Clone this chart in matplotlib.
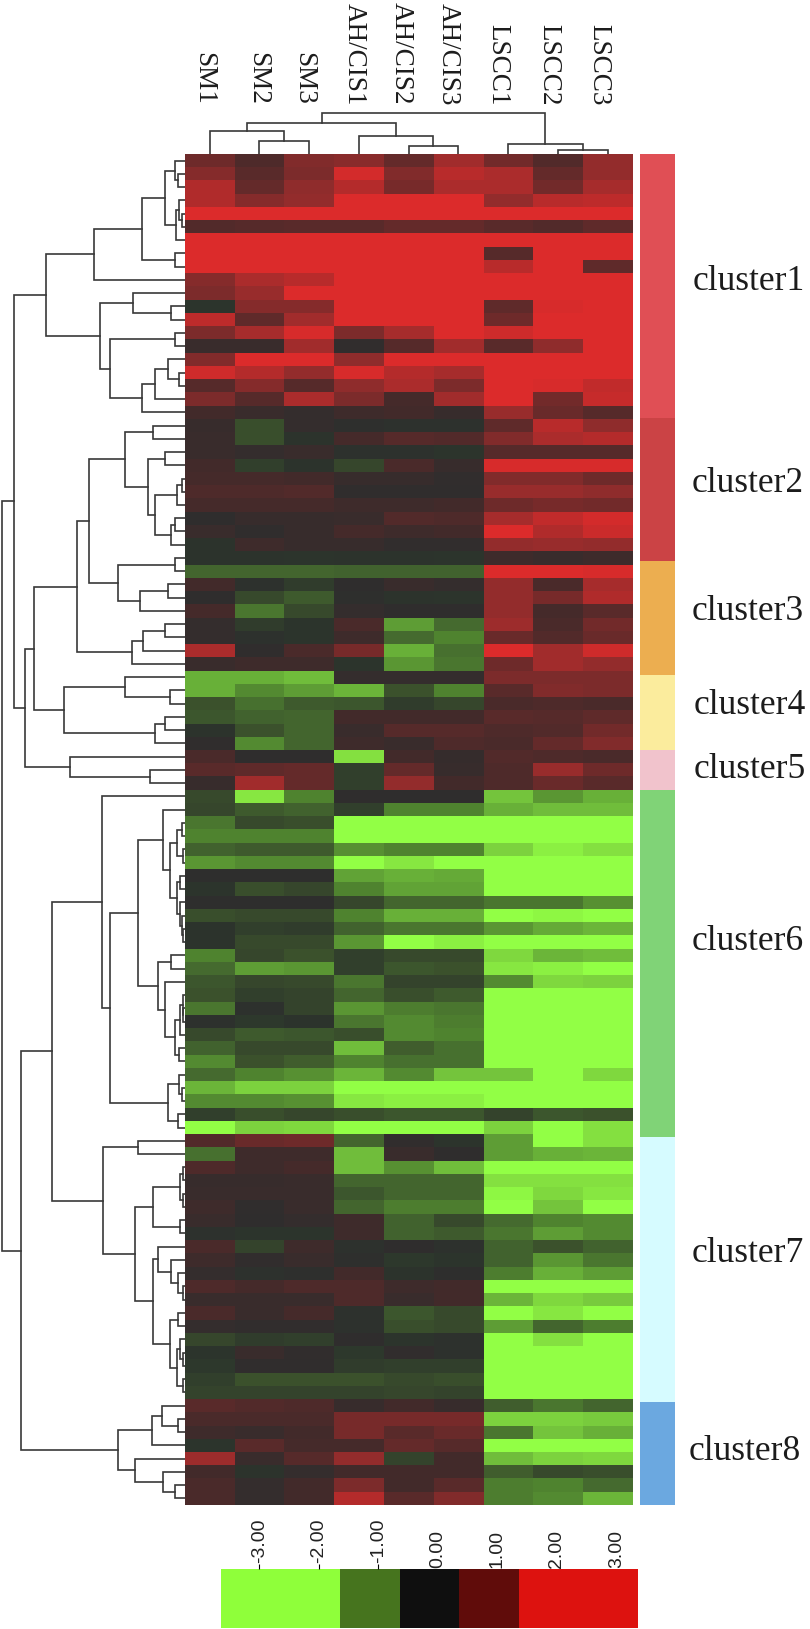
#!/usr/bin/env python3
import matplotlib
matplotlib.use("Agg")
import matplotlib.pyplot as plt
import numpy as np
from matplotlib.colors import LinearSegmentedColormap, ListedColormap, BoundaryNorm
from matplotlib.transforms import ScaledTranslation

W, H = 810, 1629

samples = ["SM1", "SM2", "SM3", "AH/CIS1", "AH/CIS2", "AH/CIS3", "LSCC1", "LSCC2", "LSCC3"]

# columns follow samples
cluster1 = [
	[0.8, 0.45, 1.0, 1.1, 0.7, 1.35, 0.85, 0.5, 1.2],
	[1.05, 0.6, 0.95, 1.9, 1.0, 1.6, 1.45, 0.7, 1.2],
	[1.5, 0.7, 1.15, 1.55, 0.9, 1.45, 1.45, 0.85, 1.4],
	[1.5, 1.05, 1.2, 2, 2, 2, 1.2, 1.6, 1.65],
	[2, 2, 2, 2, 2, 2, 2, 2, 2],
	[0.5, 0.55, 0.6, 0.6, 0.7, 0.7, 0.6, 0.5, 0.65],
	[2, 2, 2, 2, 2, 2, 2, 2, 2],
	[2, 2, 2, 2, 2, 2, 0.55, 2, 2],
	[2, 2, 2, 2, 2, 2, 1.6, 2, 0.65],
	[1.05, 1.45, 1.6, 2, 2, 2, 2, 2, 2],
	[0.95, 1.25, 2, 2, 2, 2, 2, 2, 2],
	[-0.2, 1.05, 1.05, 2, 2, 2, 0.65, 1.95, 2],
	[1.65, 0.65, 1.35, 2, 2, 2, 0.8, 2, 2],
	[0.95, 1.4, 1.95, 0.95, 1.4, 2, 1.85, 2, 2],
	[0.2, 0.2, 1.35, 0.05, 0.55, 1.35, 0.6, 1.15, 2],
	[1.0, 2, 2, 1.15, 2, 2, 2, 2, 2],
	[1.85, 1.55, 1.2, 1.95, 1.55, 1.4, 2, 2, 2],
	[0.55, 1.05, 0.55, 1.15, 1.45, 0.95, 2, 1.95, 1.7],
	[0.95, 0.55, 1.45, 0.95, 0.35, 1.35, 2, 0.85, 1.75],
	[0.3, 0.2, 0.1, 0.25, 0.3, 0.15, 1.25, 0.75, 0.55],
]
cluster2 = [
	[0.15, -0.55, 0.1, -0.05, -0.1, -0.1, 0.65, 1.6, 1.15],
	[0.2, -0.55, -0.15, 0.35, 0.55, 0.5, 1.0, 1.45, 1.55],
	[0.2, 0.1, 0.2, -0.1, -0.1, -0.2, 0.55, 0.55, 0.55],
	[0.3, -0.35, -0.15, -0.45, 0.4, 0.15, 1.95, 1.95, 1.95],
	[0.35, 0.35, 0.3, 0.15, 0.15, 0.05, 1.0, 1.0, 0.8],
	[0.45, 0.45, 0.5, 0.03, 0.03, 0.03, 1.25, 1.25, 1.15],
	[0.35, 0.35, 0.35, 0.25, 0.25, 0.3, 0.8, 0.9, 0.85],
	[0, 0.15, 0.15, 0.2, 0.5, 0.45, 1.4, 1.7, 1.9],
	[0.2, 0.02, 0.15, 0.35, 0.25, 0.3, 2, 1.5, 1.8],
	[-0.15, 0.25, 0.15, 0.15, 0.05, 0.05, 1.2, 1.25, 1.2],
	[-0.15, -0.15, -0.2, -0.15, -0.15, -0.2, 0.25, 0.2, 0.25],
]
cluster3 = [
	[-0.85, -0.85, -0.85, -0.8, -0.8, -0.8, 2, 2, 1.95],
	[0.3, -0.1, -0.3, 0, 0.2, 0.1, 1.2, 0.4, 1.4],
	[0, -0.5, -0.7, -0.05, -0.15, -0.2, 1.2, 0.9, 1.5],
	[0.35, -1.0, -0.5, 0.1, 0, 0, 1.2, 0.35, 0.6],
	[0.1, -0.3, -0.2, 0.4, -1.3, -0.9, 1.3, 0.4, 0.85],
	[0.1, -0.1, -0.2, 0.25, -0.9, -1.1, 0.75, 0.5, 0.75],
	[1.45, 0.02, 0.4, 0.9, -1.45, -0.95, 2, 1.35, 1.85],
	[0.2, 0.25, 0.25, -0.2, -1.25, -1.0, 0.8, 1.35, 1.2],
]
cluster4 = [
	[-1.45, -1.45, -1.55, 0.1, 0.1, 0.1, 0.95, 0.95, 0.95],
	[-1.45, -1.15, -1.3, -1.5, -0.6, -1.1, 0.6, 1.0, 0.95],
	[-0.6, -0.95, -0.7, -0.65, -0.3, -0.45, 0.4, 0.45, 0.4],
	[-0.65, -0.8, -0.85, 0.3, 0.3, 0.3, 0.6, 0.55, 0.65],
	[-0.15, -0.6, -0.85, 0.2, 0.55, 0.55, 0.45, 0.5, 0.85],
	[0.02, -1.15, -0.85, 0.25, 0.2, 0.45, 0.4, 0.7, 1.0],
]
cluster5 = [
	[0.4, 0, 0, -1.8, 0.3, 0.12, 0.5, 0.45, 0.4],
	[0.6, 0.65, 0.7, -0.35, 0.7, 0.15, 0.45, 1.25, 0.8],
	[0.15, 1.35, 0.7, -0.35, 1.2, 0.3, 0.45, 0.75, 0.6],
]
cluster6 = [
	[-0.5, -1.85, -1.1, 0, 0, 0, -1.6, -1.25, -1.45],
	[-0.45, -0.7, -0.8, -0.35, -1.1, -1.1, -1.45, -1.55, -1.55],
	[-1.0, -0.5, -0.55, -2, -2, -2, -2, -2, -2],
	[-1.1, -1.1, -1.1, -2, -2, -2, -2, -2, -2],
	[-0.8, -0.7, -0.7, -1.2, -1.1, -1.1, -1.7, -1.9, -1.8],
	[-1.25, -1.15, -1.15, -2, -1.85, -2, -2, -2, -2],
	[-0.03, -0.03, -0.03, -1.35, -1.45, -1.4, -2, -2, -2],
	[-0.2, -0.55, -0.45, -1.1, -1.35, -1.35, -2, -2, -2],
	[-0.03, -0.03, -0.03, -0.45, -0.85, -0.85, -1.0, -1.0, -1.2],
	[-0.55, -0.5, -0.5, -1.1, -1.45, -1.45, -2, -1.95, -2],
	[-0.15, -0.35, -0.3, -0.8, -1.0, -1.0, -1.25, -1.4, -1.5],
	[-0.15, -0.5, -0.5, -1.25, -2, -1.9, -2, -2, -2],
	[-1.1, -0.45, -0.6, -0.35, -0.5, -0.5, -1.75, -1.5, -1.55],
	[-0.9, -1.3, -1.25, -0.35, -0.65, -0.6, -1.85, -1.9, -2],
	[-0.65, -0.45, -0.5, -1.0, -0.4, -0.4, -1.15, -1.75, -1.7],
	[-0.6, -0.35, -0.4, -0.85, -0.55, -0.7, -2, -2, -2],
	[-1.0, -0.1, -0.4, -1.25, -1.05, -1.0, -2, -2, -2],
	[-0.1, -0.25, -0.15, -1.0, -1.15, -1.05, -2, -2, -2],
	[-0.5, -0.7, -0.65, -0.55, -1.15, -1.1, -2, -2, -2],
	[-0.8, -0.5, -0.5, -1.55, -0.75, -0.95, -2, -2, -2],
	[-1.15, -0.6, -0.75, -1.1, -0.95, -0.95, -2, -2, -2],
	[-0.9, -1.1, -1.2, -1.5, -1.15, -1.6, -1.6, -2, -1.75],
	[-1.5, -1.7, -1.7, -2, -2, -2, -2, -2, -2],
	[-1.15, -1.15, -1.2, -1.85, -1.9, -1.9, -2, -2, -2],
	[-0.35, -0.55, -0.45, -0.55, -0.65, -0.65, -0.4, -0.65, -0.6],
	[-2, -1.7, -1.75, -2, -2, -2, -1.7, -2, -1.8],
]
cluster7 = [
	[0.5, 0.75, 0.8, -0.85, 0.05, -0.2, -1.3, -2, -1.8],
	[-0.95, 0.25, 0.25, -1.55, 0.2, 0, -1.3, -1.45, -1.5],
	[0.45, 0.25, 0.35, -1.55, -1.2, -1.55, -2, -2, -2],
	[0.15, 0.15, 0.2, -0.85, -0.85, -0.85, -1.8, -1.8, -1.8],
	[0.2, 0.2, 0.2, -0.65, -0.85, -0.85, -1.95, -1.75, -1.85],
	[0.25, 0.02, 0.2, -0.85, -1.05, -1.05, -2, -1.6, -2],
	[0.2, 0, 0.1, 0.25, -0.8, -0.5, -0.9, -1.1, -1.15],
	[-0.1, -0.2, -0.2, 0.25, -0.8, -0.7, -1.0, -1.3, -1.15],
	[0.4, -0.4, 0.25, -0.1, 0, -0.1, -0.8, -0.6, -0.8],
	[0.25, 0.05, 0.2, -0.05, -0.25, -0.2, -0.8, -1.25, -1.0],
	[0.1, -0.1, -0.05, 0.3, -0.15, -0.03, -1.05, -1.45, -1.3],
	[0.45, 0.35, 0.45, 0.45, 0.25, 0.3, -2, -2, -2],
	[0.2, 0.2, 0.2, 0.45, 0.2, 0.3, -1.5, -1.75, -1.65],
	[0.4, 0.2, 0.35, -0.1, -0.65, -0.5, -2, -1.85, -2],
	[0.1, 0.05, 0.05, -0.1, -0.55, -0.5, -1.3, -0.85, -1.05],
	[-0.45, -0.3, -0.35, 0, -0.2, -0.1, -2, -1.8, -2],
	[-0.2, 0.2, 0.05, -0.25, 0.05, -0.1, -2, -2, -2],
	[-0.25, 0.03, 0.03, -0.3, -0.35, -0.35, -2, -2, -2],
	[-0.35, -0.6, -0.6, -0.6, -0.5, -0.55, -2, -2, -2],
	[-0.4, -0.4, -0.4, -0.4, -0.45, -0.4, -2, -2, -2],
]
cluster8 = [
	[0.6, 0.5, 0.45, 0.15, 0.3, 0.15, -0.75, -1.0, -0.85],
	[0.4, 0.4, 0.4, 0.9, 0.9, 0.9, -1.7, -1.7, -1.65],
	[0.25, 0.2, 0.3, 0.9, 0.6, 0.75, -1.0, -1.6, -1.45],
	[-0.2, 0.6, 0.35, 0.35, 0.7, 0.55, -2, -2, -2],
	[1.3, 0.2, 0.55, 1.2, -0.4, 0.3, -1.55, -1.7, -1.75],
	[0.3, -0.15, 0.1, 0.3, 0.3, 0.3, -0.75, -0.5, -0.55],
	[0.4, 0.1, 0.3, 0.95, 0.3, 0.6, -1.05, -1.1, -0.9],
	[0.4, 0.1, 0.3, 1.55, 0.6, 1.0, -1.05, -1.15, -1.5],
]
clusters = [cluster1, cluster2, cluster3, cluster4, cluster5, cluster6, cluster7, cluster8]
cluster_names = ["cluster%d" % (i + 1) for i in range(8)]
cluster_colors = ["#e04f55", "#cb4345", "#ecae50", "#fbec9d", "#f1c3cc", "#80d377", "#d6fbff", "#6ba8e0"]
# strip blocks do not sit exactly on row edges in the picture
strip_spans = [19.9, 10.8, 8.6, 5.7, 3.0, 26.2, 20.0, 7.8]

# dendrograms: [height, child, child], a plain int is a leaf
col_tree = [40.7, [31.3, [23, 0, [13, 1, 2]], [18, 3, [8, 4, 5]]], [9.7, 6, [4.3, 7, 8]]]

branch_a = [139, [91, [43, [20, [10, 0, [6.7, 1, 2]], [8.7, [5.3, 3, [3, 4, 5]], 6]], [10, 7, 8]], 9],
	[84.7, [51.3, 10, [13.3, 11, 12]],
		[74.7, [10, 13, 14], [43, [29.7, [16.7, 15, [5.3, 16, 17]], 18], 19]]]]
branch_b = [107.7, [96,
		[59.7, [31.3, 20, 21], [36.3, [20, 22, 23], [29.7, [8, [3, 24, 25], 26], [13.3, [10, 27, 28], 29]]]],
		[66.3, [10, 30, 31], [44.7, [16.7, 32, 33], 34]]],
	[53, [41.3, [20, 35, 36], 37], 38]]
branch_c = [121, [59.7, 39, [14.7, 40, 41]], [29.7, [20, 42, 43], 44]]
branch_d = [114.3, 45, [34.7, 46, 47]]
branch_e = [46.3,
	[21.3, 49, [14.7, [8, [3, 50, 51], [2, 52, 53]], [8, [5, 54, 55], [5, 56, [3, 57, [2, 58, 59]]]]]],
	[26.3, [13.3, 60, 61], [19.7, 62, [9.7, [5, [2, 63, [1.3, 64, 65]], 66], [5.3, 67, 68]]]]]
branch_f = [16.3, [5.3, 69, [3, 70, 71]], [6.3, 72, 73]]
branch_g = [81.3, [46.3, 74, 75], [49.7,
	[31.3, [4.7, [2, 76, 77], [2, 78, 79]], [4.7, 80, 81]],
	[31.3, [26.3, 82, [13.3, 83, [6.3, 84, [2, 85, 86]]]],
		[14.7, [6.3, 87, 88], [8, [4.7, 89, [2, 90, 91]], [2, 92, 93]]]]]]
branch_h = [66.3, [33, [23, 94, [6.3, 95, 96]], 97], [49.7, 98, [22, 99, [9.7, 100, 101]]]]
row_tree = [182.3,
	[170.7, branch_a, [159.3, [150.7, branch_b, branch_c], branch_d]],
	[164, [132.7, [83, 48, [74.7, branch_e, branch_f]], branch_g], branch_h]]

bar_ticks = [-3, -2, -1, 0, 1, 2, 3]
bar_labels = ["-3.00", "-2.00", "-1.00", "0.00", "1.00", "2.00", "3.00"]
bar_edges = [-3.64, -1.64, -0.64, 0.36, 1.36, 3.36]
bar_colors = ["#8fff3a", "#46741e", "#0f0f0f", "#600c0a", "#dd120f"]

heat_nodes = [(-2, "#92ff45"), (-1.8, "#84e040"), (-1.5, "#6cb63a"), (-1.1, "#508430"), (-0.9, "#456a2f"),
	(-0.5, "#384a2c"), (-0.2, "#2c352c"), (0, "#2f2e2e"), (0.2, "#3a2c2c"), (0.4, "#4a2a2a"),
	(0.6, "#5a2a2a"), (0.8, "#6e2a2a"), (1.1, "#8a2c2c"), (1.5, "#b02c2c"), (2, "#dc2b2b")]

LEFT, RIGHT, TOP, BOTTOM = 184.7, 632.5, 154, 1505

def pixel_axes(fig, x0, y0, x1, y1):
	return fig.add_axes([x0 / W, 1 - y1 / H, (x1 - x0) / W, (y1 - y0) / H])

def draw_tree(ax, node, vertical):
	"""Walks the tree and returns (leaf position, height) of the node."""
	if isinstance(node, int):
		return node + 0.5, 0
	h, a, b = node
	pa, ha = draw_tree(ax, a, vertical)
	pb, hb = draw_tree(ax, b, vertical)
	ps = [pa, pa, pb, pb]
	hs = [ha, h, h, hb]
	if vertical:
		ax.plot(ps, hs, color="#383838", lw=1.2, solid_joinstyle="miter")
	else:
		ax.plot(hs, ps, color="#383838", lw=1.2, solid_joinstyle="miter")
	return (pa + pb) / 2, h

fig = plt.figure(figsize=(W / 100, H / 100), dpi=100, facecolor="white")

# heatmap
values = np.array([row for c in clusters for row in c], dtype=float)
n_rows, n_cols = values.shape
vmin, vmax = heat_nodes[0][0], heat_nodes[-1][0]
cmap = LinearSegmentedColormap.from_list("heat", [((v - vmin) / (vmax - vmin), c) for v, c in heat_nodes], N=512)
ax = pixel_axes(fig, LEFT, TOP, RIGHT, BOTTOM)
ax.imshow(values, cmap=cmap, vmin=vmin, vmax=vmax, aspect="auto", interpolation="nearest",
	extent=(0, n_cols, n_rows, 0))
ax.axis("off")

# row dendrogram
ax = pixel_axes(fig, 0, TOP, LEFT, BOTTOM)
draw_tree(ax, row_tree, False)
ax.set_xlim(LEFT, 0)
ax.set_ylim(n_rows, 0)
ax.axis("off")

# column dendrogram
ax = pixel_axes(fig, LEFT, 105, RIGHT, TOP)
draw_tree(ax, col_tree, True)
ax.set_xlim(0, n_cols)
ax.set_ylim(0, TOP - 105)
ax.axis("off")

# cluster strip
ax = pixel_axes(fig, 640, TOP, 675, BOTTOM)
start = 0
for span, color in zip(strip_spans, cluster_colors):
	ax.barh(start, 1, height=span, left=0, align="edge", color=color, linewidth=0)
	start += span
ax.set_xlim(0, 1)
ax.set_ylim(n_rows, 0)
ax.axis("off")

# labels
serif = "Liberation Serif"
label_x = [204, 258, 304, 354, 401, 448, 498, 549, 599]
for x, name in zip(label_x, samples):
	fig.text(x / W, 1 - 105 / H, name, rotation=270, ha="center", va="bottom", fontsize=19.5,
		family=serif, color="#1c1c1c")

cluster_y = [282, 484, 612, 706, 769, 942, 1253, 1452]
cluster_left = [693, 692, 692, 694, 694, 692, 692, 689]
for x, y, name in zip(cluster_left, cluster_y, cluster_names):
	fig.text(x / W, 1 - y / H, name, ha="left", va="center", fontsize=25.5, family=serif, color="#1c1c1c")

# colour key
ax = pixel_axes(fig, 221, 1569, 638, 1628)
key_cmap = ListedColormap(bar_colors)
key_norm = BoundaryNorm(bar_edges, key_cmap.N)
ax.pcolormesh(bar_edges, [0, 1], [[-2.5, -1, 0, 1, 2.5]], cmap=key_cmap, norm=key_norm)
ax.set_yticks([])
ax.xaxis.tick_top()
ax.set_xticks(bar_ticks)
ax.set_xticklabels(bar_labels, rotation=90, fontsize=14, family="Liberation Sans", color="#222222")
ax.tick_params(axis="x", length=3.5, width=0.8, pad=0.5)
# from 0.00 on the labels sit right on the bar, with no tick showing
for t, v in zip(ax.xaxis.get_major_ticks(), bar_ticks):
	if v >= 0:
		t.tick2line.set_visible(False)
		t.label2.set_transform(t.label2.get_transform() + ScaledTranslation(0, -3.5 / 72, fig.dpi_scale_trans))
for s in ax.spines.values():
	s.set_visible(False)

fig.savefig("out.png", dpi=100, facecolor="white")
